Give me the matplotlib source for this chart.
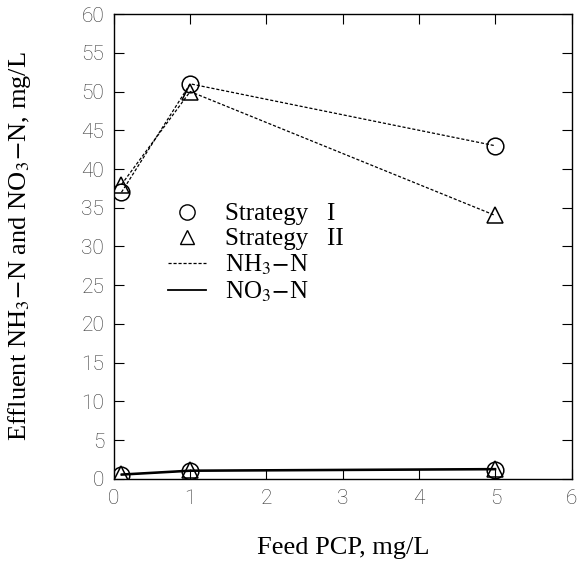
import matplotlib
matplotlib.use("Agg")
import matplotlib.pyplot as plt
from matplotlib.lines import Line2D

# === Data ===
feed_pcp = [0.1, 1, 5]
nh3_strategy1 = [37, 51, 43]
nh3_strategy2 = [38, 50, 34]
no3_strategy1 = [0.5, 1.0, 1.2]
no3_strategy2 = [0.6, 1.1, 1.3]

plt.rcParams['font.family'] = ['Liberation Serif', 'DejaVu Serif']
plt.rcParams['mathtext.fontset'] = 'stix'

fig = plt.figure(figsize=(5.78, 5.64), dpi=100)
ax = fig.add_axes([0.197, 0.151, 0.792, 0.824])

dash = (0, (2.5, 1.5))

# NH3-N (dashed)
ax.plot(feed_pcp, nh3_strategy1, color='black', linestyle=dash, linewidth=0.9,
        marker='o', markersize=12, markerfacecolor='none', markeredgewidth=1.1)
ax.plot(feed_pcp, nh3_strategy2, color='black', linestyle=dash, linewidth=0.9,
        marker='^', markersize=11, markerfacecolor='none', markeredgewidth=1.1)

# NO3-N (solid)
ax.plot(feed_pcp, no3_strategy1, color='black', linestyle='-', linewidth=1.3,
        marker='o', markersize=12, markerfacecolor='none', markeredgewidth=1.1)
ax.plot(feed_pcp, no3_strategy2, color='black', linestyle='-', linewidth=1.3,
        marker='^', markersize=11, markerfacecolor='none', markeredgewidth=1.1)

ax.set_xlim(0, 6)
ax.set_ylim(0, 60)
ax.set_xticks(range(0, 7))
ax.set_yticks(range(0, 61, 5))
ax.tick_params(direction='in', top=True, right=True, length=7, width=0.8,
               labelsize=15, labelcolor='#333333', pad=7)
for lab in ax.get_xticklabels() + ax.get_yticklabels():
    lab.set_fontfamily(['Roboto', 'DejaVu Sans'])
    lab.set_fontweight('light')
for sp in ax.spines.values():
    sp.set_linewidth(1.0)

ax.set_xlabel('Feed PCP, mg/L', fontsize=19)
ax.set_ylabel(r'Effluent NH$_3\!-\!$N and NO$_3\!-\!$N, mg/L', fontsize=19)
ax.xaxis.set_label_coords(0.5, -0.125)
ax.yaxis.set_label_coords(-0.177, 0.5)

handles = [
    Line2D([], [], color='black', marker='o', linestyle='none', markersize=11,
           markerfacecolor='none'),
    Line2D([], [], color='black', marker='^', linestyle='none', markersize=10,
           markerfacecolor='none'),
    Line2D([], [], color='black', linestyle=dash, linewidth=0.9),
    Line2D([], [], color='black', linestyle='-', linewidth=1.3),
]
labels = ['Strategy   I', 'Strategy   II', r'NH$_3\!-\!$N', r'NO$_3\!-\!$N']
ax.legend(handles, labels, loc='upper left', bbox_to_anchor=(0.07, 0.642),
          frameon=False, fontsize=18, handlelength=1.5, labelspacing=0.1,
          handletextpad=0.75)

fig.savefig('out.png', dpi=100)
